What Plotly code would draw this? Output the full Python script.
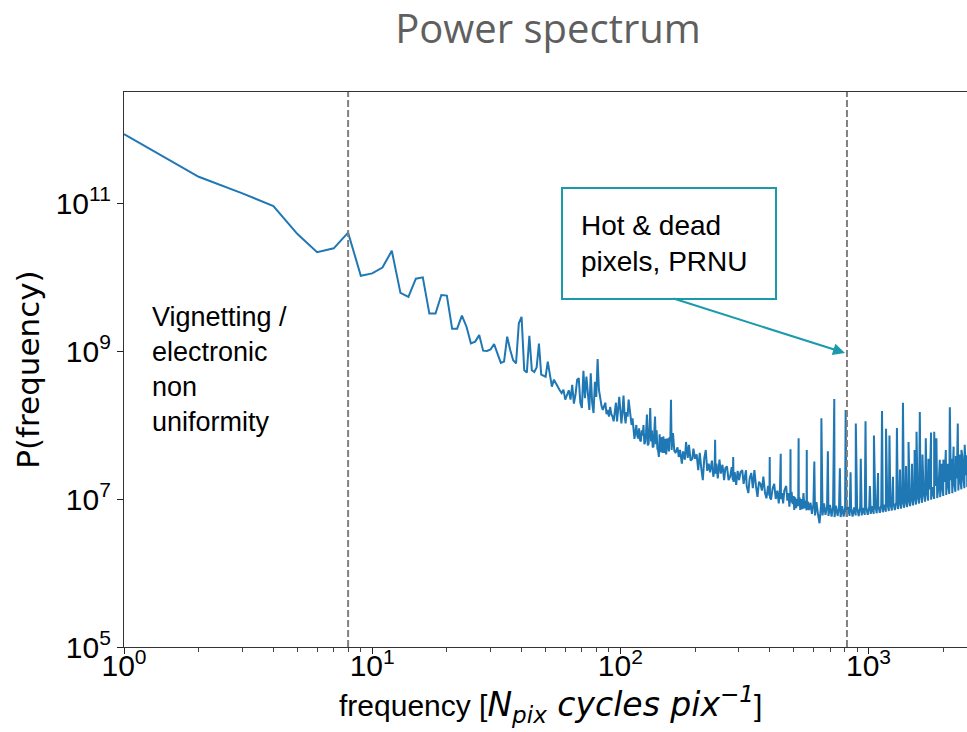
import numpy as np
import plotly.graph_objects as go

# ---------------- data ----------------
# low-frequency part (integer frequencies)
freq_low = [1, 2, 3, 4, 5, 6, 7, 8, 9, 10, 11, 12, 13, 14, 15, 16, 17, 18, 19, 20,
            21, 22, 23, 24, 25, 26, 27, 28, 29, 30, 31, 32, 33, 34, 35, 36, 37, 38, 39, 40,
            41, 42, 43, 44, 45, 46, 47, 48, 50, 51, 53, 54, 55, 57, 58, 60, 62, 64, 65, 67,
            68, 70, 71, 73, 75, 76, 78, 79, 81, 83, 85, 86, 88, 90, 92, 94, 96, 97, 99, 101,
            103, 105, 108, 110, 112, 115, 117, 120, 123, 126, 128, 130, 132, 135, 138, 141, 143, 147, 151, 154,
            156, 158, 160]
power_low = [8.5e11, 2.26e11, 1.35e11, 9.1e10, 3.8e10, 2.16e10, 2.44e10, 3.97e10, 1.04e10, 1.12e10,
             1.34e10, 2.26e10, 6.1e9, 5.4e9, 9.5e9, 9.9e9, 3.2e9, 3.2e9, 5.7e9, 5.6e9,
             2.0e9, 2.0e9, 3.0e9, 2.13e9, 1.27e9, 1.34e9, 1.64e9, 1.01e9, 1.0e9, 1.05e9,
             1.24e9, 9.3e8, 6.9e8, 7.2e8, 1.56e9, 1.03e9, 7.5e8, 6.8e8, 2.37e9, 2.9e9,
             5.5e8, 5.1e8, 1.6e9, 5.5e8, 5.2e8, 6.0e8, 1.26e9, 4.8e8, 4.5e8, 7.2e8,
             3.3e8, 4.1e8, 3.6e8, 2.95e8, 2.7e8, 2.2e8, 2.95e8, 3.5e8, 1.95e8, 4.1e8,
             4.3e8, 1.7e8, 5.4e8, 4.5e8, 1.6e8, 5.0e8, 1.45e8, 3.85e8, 7.8e8, 2.2e8,
             1.6e8, 1.8e8, 1.4e8, 1.3e8, 1.4e8, 1.12e8, 2.0e8, 1.12e8, 2.4e8, 1.05e8,
             2.5e8, 1.05e8, 2.2e8, 1.12e8, 1.23e8, 8.1e7, 7.2e7, 6.3e7, 7.2e7, 5.9e7,
             1.38e8, 5.6e7, 1.7e8, 5.1e7, 1.3e8, 4.8e7, 3.7e7, 6.3e7, 4.2e7, 5.1e7,
             5.4e7, 6.9e7, 2.2e8]

# extra samples in the dense 59-162 band
freq_band = [59, 61, 63, 66, 69, 72, 74, 77, 80, 82, 84, 87, 89, 91, 93, 95, 98, 100, 102, 104,
             106, 107, 109, 111, 113, 114, 116, 118, 119, 121, 122, 124, 125, 127, 129, 131, 133, 134, 136, 137,
             139, 140, 142, 144, 145, 146, 148, 149, 150, 152, 153, 155, 157, 159, 161, 162]
power_band = [3.0e8, 2.5e8, 2.2e8, 2.6e8, 2.0e8, 2.3e8, 2.8e8, 2.0e8, 2.4e8, 3.0e8,
              1.8e8, 2.0e8, 1.6e8, 1.75e8, 1.3e8, 1.5e8, 1.5e8, 1.6e8, 1.5e8, 1.4e8,
              1.5e8, 1.3e8, 1.6e8, 1.0e8, 9.5e7, 6.5e7, 1.0e8, 6.6e7, 9.0e7, 6.0e7,
              8.5e7, 1.0e8, 5.5e7, 8.0e7, 5.3e7, 9.0e7, 6.0e7, 8.5e7, 5.0e7, 8.0e7,
              5.5e7, 8.5e7, 4.5e7, 7.5e7, 4.3e7, 6.8e7, 4.2e7, 7.0e7, 5.0e7, 6.5e7,
              4.0e7, 6.6e7, 4.4e7, 6.0e7, 4.6e7, 6.5e7]

# middle part
freq_mid = [163, 165, 167, 170, 172, 174, 177, 179, 182, 184, 187, 189, 192, 195, 197, 200, 203, 206, 209, 212,
            215, 218, 221, 224, 227, 230, 234, 237, 240, 241, 242, 244, 247, 251, 254, 258, 262, 265, 269, 273,
            277, 281, 284, 285, 286, 289, 293, 297, 301, 305, 310, 314, 318, 321, 323, 328, 332, 337, 342, 347,
            352, 357, 362, 367, 372, 377, 383, 388, 394, 399, 400, 401, 405, 411, 417, 423, 429, 435, 440, 443,
            444, 448, 453, 458, 466, 471, 476, 480, 484, 485, 486, 490, 495, 500, 502, 507, 511, 516, 521, 523,
            524, 528, 531, 536, 542, 547, 552, 557, 563, 564, 565, 570, 576]
power_mid = [7.8e7, 4.5e7, 4.2e7, 5.0e7, 3.7e7, 4.6e7, 3.0e7, 4.4e7, 3.4e7, 5.9e7,
             3.6e7, 5.4e7, 3.3e7, 3.5e7, 4.8e7, 3.5e7, 4.0e7, 2.45e7, 4.2e7, 2.6e7,
             1.8e7, 3.6e7, 4.6e7, 2.4e7, 3.0e7, 2.3e7, 3.3e7, 2.0e7, 2.6e7, 6.3e7,
             2.2e7, 3.0e7, 1.9e7, 3.4e7, 2.2e7, 2.9e7, 1.8e7, 2.6e7, 2.75e7, 1.8e7,
             2.0e7, 2.7e7, 1.8e7, 3.7e7, 1.7e7, 2.3e7, 1.55e7, 2.4e7, 1.8e7, 2.3e7,
             2.45e7, 1.6e7, 2.0e7, 2.45e7, 1.5e7, 1.2e7, 1.9e7, 2.25e7, 1.4e7, 2.45e7,
             1.5e7, 1.07e7, 1.7e7, 1.6e7, 1.3e7, 2.0e7, 1.2e7, 1.02e7, 1.5e7, 1.1e7,
             3.7e7, 1.05e7, 9.8e6, 1.4e7, 1.6e7, 1.0e7, 1.3e7, 8.7e6, 1.4e7, 4.1e7,
             1.0e7, 1.2e7, 8.7e6, 1.3e7, 1.5e7, 9.5e6, 1.2e7, 7.9e6, 1.1e7, 4.7e7,
             9.0e6, 1.25e7, 8.5e6, 1.1e7, 7.1e6, 1.05e7, 7.5e6, 1.0e7, 8.0e6, 6.6e7,
             8.5e6, 1.05e7, 7.1e6, 1.0e7, 7.3e6, 1.2e7, 7.5e6, 9.5e6, 7.0e6, 4.6e7,
             7.2e6, 9.2e6, 7.1e6]

# high-frequency noise floor
freq_high = [584, 592, 600, 609, 617, 626, 635, 644, 653, 662, 671, 681, 690, 700, 710, 720, 730, 740, 751, 761,
             772, 783, 794, 805, 816, 828, 839, 851, 863, 875, 888, 900, 913, 926, 939, 952, 966, 979, 993, 1007,
             1021, 1036, 1050, 1065, 1080, 1095, 1111, 1126, 1142, 1158, 1175, 1191, 1208, 1225, 1242, 1260, 1277, 1295, 1314, 1332,
             1351, 1370, 1390, 1409, 1429, 1449, 1470, 1491, 1512, 1533, 1555, 1577, 1599, 1621, 1644, 1667, 1691, 1715, 1739, 1764,
             1788, 1814, 1839, 1865, 1892, 1918, 1945, 1973, 2001, 2029, 2058, 2087, 2116, 2146, 2177, 2207, 2239, 2270, 2302, 2335,
             2368, 2401, 2435, 2470, 2500]
power_high = [8.9e6, 6.3e6, 8.5e6, 6.0e6, 9.1e6, 6.2e6, 4.7e6, 8.3e6, 6.0e6, 8.7e6,
              6.1e6, 8.0e6, 5.9e6, 8.3e6, 5.8e6, 7.9e6, 5.7e6, 8.1e6, 5.9e6, 7.6e6,
              5.7e6, 8.0e6, 5.8e6, 7.6e6, 5.75e6, 7.8e6, 5.9e6, 7.5e6, 5.8e6, 7.7e6,
              6.0e6, 7.6e6, 5.9e6, 7.8e6, 6.0e6, 7.6e6, 6.1e6, 7.8e6, 6.1e6, 7.9e6,
              6.3e6, 8.0e6, 6.3e6, 8.1e6, 6.4e6, 8.2e6, 6.5e6, 8.3e6, 6.6e6, 8.4e6,
              6.7e6, 8.6e6, 6.9e6, 8.7e6, 7.0e6, 9.0e6, 7.1e6, 9.1e6, 7.3e6, 9.4e6,
              7.4e6, 9.6e6, 7.6e6, 9.8e6, 7.8e6, 1.0e7, 8.0e6, 1.05e7, 8.2e6, 1.1e7,
              8.4e6, 1.12e7, 8.7e6, 1.2e7, 8.9e6, 1.25e7, 9.2e6, 1.3e7, 9.5e6, 1.35e7,
              9.8e6, 1.45e7, 1.0e7, 1.5e7, 1.03e7, 1.55e7, 1.06e7, 1.6e7, 1.1e7, 1.7e7,
              1.13e7, 1.75e7, 1.17e7, 1.8e7, 1.2e7, 1.85e7, 1.25e7, 1.9e7, 1.3e7, 2.0e7,
              1.35e7, 2.1e7, 1.4e7, 2.1e7, 1.45e7]

# narrow spikes above the noise floor
spike_freq = [605, 646, 686, 728, 767, 809, 847, 889, 931, 973, 1013, 1052, 1093, 1134, 1177, 1215, 1255, 1302, 1340, 1377,
              1417, 1450, 1498, 1534, 1562, 1610, 1650, 1702, 1745, 1787, 1840, 1878, 1938, 1970, 2003, 2049, 2080, 2127, 2160, 2203,
              2250, 2290, 2330, 2369, 2400, 2442, 2494]
spike_power = [3.2e7, 1.23e8, 4.4e7, 2.24e8, 2.6e7, 1.6e8, 2.3e7, 1.05e8, 3.5e7, 1.12e8,
               1.5e7, 7.2e7, 2.24e7, 1.55e8, 8.9e7, 7.2e7, 2.0e7, 9.1e7, 2.5e7, 2.0e8,
               2.8e7, 5.9e7, 3.0e7, 4.6e7, 8.1e7, 1.5e8, 4.0e7, 6.6e7, 3.5e7, 7.9e7,
               8.1e7, 6.6e7, 3.4e7, 3.0e7, 3.4e7, 4.6e7, 3.0e7, 1.74e8, 3.5e7, 5.1e7,
               3.8e7, 1.05e8, 4.0e7, 4.6e7, 3.5e7, 5.4e7, 3.9e7]

dashed_freqs = [8, 819]
x_tick_vals = [1, 10, 100, 1000]
x_tick_text = ["10<sup>0</sup>", "10<sup>1</sup>", "10<sup>2</sup>", "10<sup>3</sup>"]
y_tick_vals = [1e5, 1e7, 1e9, 1e11]
y_tick_text = ["10<sup>5</sup>", "10<sup>7</sup>", "10<sup>9</sup>", "10<sup>11</sup>"]

# ---------------- assemble ----------------
f_all = np.array(freq_low + freq_band + freq_mid + freq_high + spike_freq, dtype=float)
p_all = np.array(power_low + power_band + power_mid + power_high + spike_power, dtype=float)
order = np.argsort(f_all, kind="stable")
f_all = f_all[order]
p_all = p_all[order]

SANS = "Liberation Sans, Arial, sans-serif"
TEAL = "#1a9aab"
PLOT_W, PLOT_H = 843, 555

fig = go.Figure()
fig.add_trace(go.Scatter(x=f_all, y=p_all, mode="lines",
                         line=dict(color="#1f77b4", width=2), hoverinfo="skip",
                         showlegend=False))

for fx in dashed_freqs:
    fig.add_shape(type="line", xref="x", yref="paper", x0=fx, x1=fx, y0=0, y1=1,
                  line=dict(color="#808080", width=2, dash="7px,3px"))

x_title = ("frequency [<span style=\"font-family:'DejaVu Sans';font-size:33px\">"
           "<i>N<sub>pix</sub> cycles pix<sup>−1</sup></i></span>]")

fig.update_layout(
    width=967, height=732,
    margin=dict(l=124, r=0, t=92, b=85),
    paper_bgcolor="white", plot_bgcolor="white",
    title=dict(text="Power spectrum", x=548 / 967, xanchor="center",
               y=1 - 29 / 732, yanchor="middle",
               font=dict(family="Open Sans, Lato, sans-serif", size=40, color="#5f5f5f")),
    xaxis=dict(type="log", range=[0, 3.397],
               tickvals=x_tick_vals, ticktext=x_tick_text,
               ticks="outside", ticklen=6, tickwidth=1.3, tickcolor="#222",
               ticklabelstandoff=-14,
               tickfont=dict(family=SANS, size=30, color="black"),
               showgrid=False, zeroline=False,
               showline=True, linecolor="#333", linewidth=1.3, mirror=True,
               minor=dict(ticks="outside", ticklen=3.5, tickwidth=1, tickcolor="#444",
                          dtick="D1", showgrid=False)),
    yaxis=dict(type="log", range=[5, 12.5],
               tickvals=y_tick_vals, ticktext=y_tick_text,
               ticks="outside", ticklen=6, tickwidth=1.3, tickcolor="#222",
               tickfont=dict(family=SANS, size=30, color="black"),
               showgrid=False, zeroline=False,
               showline=True, linecolor="#333", linewidth=1.3, mirror=True,
               title=dict(text="P(frequency)",
                          font=dict(family="DejaVu Sans, sans-serif", size=31, color="black"),
                          standoff=6)),
)

# x-axis title (placed as an annotation for exact vertical position)
fig.add_annotation(xref="paper", yref="paper",
                   x=(550 - 124) / PLOT_W, y=-(704 - 647) / PLOT_H,
                   xanchor="center", yanchor="middle", showarrow=False,
                   text=x_title, font=dict(family=SANS, size=30, color="black"))

fig.add_annotation(xref="paper", yref="paper",
                   x=(150 - 124) / PLOT_W, y=(647 - 369.5) / PLOT_H,
                   xanchor="left", yanchor="middle", align="left",
                   text="Vignetting /<br>electronic<br>non<br>uniformity",
                   showarrow=False,
                   font=dict(family=SANS, size=27, color="black"))

fig.add_annotation(xref="paper", yref="paper",
                   x=(669 - 124) / PLOT_W, y=(647 - 243) / PLOT_H,
                   xanchor="center", yanchor="middle", align="left",
                   text="Hot & dead<br>pixels, PRNU", showarrow=False,
                   width=176, height=73, borderpad=18,
                   bordercolor=TEAL, borderwidth=2, bgcolor="white",
                   font=dict(family=SANS, size=28, color="black"))

fig.add_annotation(xref="paper", yref="paper",
                   x=(845 - 124) / PLOT_W, y=(647 - 353) / PLOT_H,
                   text="", showarrow=True, axref="pixel", ayref="pixel",
                   ax=-173, ay=-55, arrowhead=2, arrowsize=1.2, arrowwidth=2,
                   arrowcolor=TEAL, standoff=0, startstandoff=0)

fig.write_html("out.html")
